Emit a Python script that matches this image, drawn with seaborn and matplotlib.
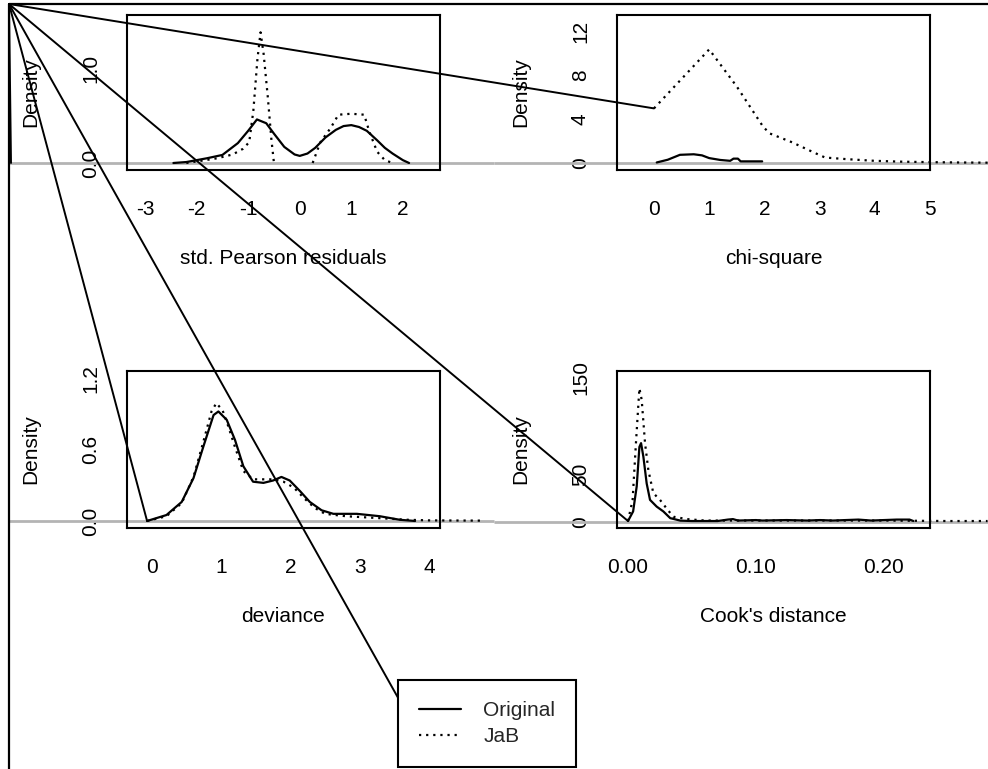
import numpy as np
import matplotlib
matplotlib.use("Agg")
import matplotlib.pyplot as plt
import matplotlib.transforms as mtransforms
from matplotlib.lines import Line2D
import seaborn as sns

# ---------------- density curves ----------------
pearson_orig_x = [-2.45, -2.2, -2.0, -1.8, -1.5, -1.2, -1.0, -0.83, -0.65, -0.5, -0.3, -0.1,
                  0.0, 0.15, 0.3, 0.5, 0.7, 0.85, 1.0, 1.15, 1.3, 1.5, 1.65, 1.8, 2.0, 2.12]
pearson_orig_y = [0.0, 0.01, 0.03, 0.05, 0.085, 0.21, 0.34, 0.46, 0.42, 0.31, 0.17, 0.09,
                  0.075, 0.10, 0.16, 0.27, 0.35, 0.39, 0.40, 0.38, 0.34, 0.24, 0.16, 0.10, 0.03, 0.0]
pearson_jab_x = [-2.2, -1.95, -1.6, -1.3, -1.1, -0.98, -0.9, -0.82, -0.76, -0.7, -0.62, -0.55,
                 -0.5, 0.25, 0.4, 0.6, 0.75, 1.0, 1.25, 1.35, 1.5, 1.65, 1.8]
pearson_jab_y = [0.0, 0.02, 0.05, 0.09, 0.15, 0.22, 0.55, 1.1, 1.38, 1.15, 0.7, 0.25,
                 0.0, 0.0, 0.22, 0.37, 0.51, 0.52, 0.51, 0.33, 0.12, 0.03, 0.0]

chisq_orig_x = [0.05, 0.25, 0.47, 0.72, 0.87, 1.0, 1.2, 1.38, 1.44, 1.52, 1.57, 1.96]
chisq_orig_y = [0.05, 0.3, 0.75, 0.8, 0.7, 0.45, 0.28, 0.2, 0.4, 0.4, 0.15, 0.15]
chisq_jab_x = [0.0, 0.5, 1.0, 1.5, 1.98, 2.1, 2.5, 2.88, 3.1, 3.5, 4.0, 4.5, 5.0, 5.5, 6.05]
chisq_jab_y = [5.0, 7.7, 10.4, 7.0, 3.3, 2.7, 1.9, 1.0, 0.5, 0.35, 0.2, 0.12, 0.08, 0.05, 0.03]

dev_orig_x = [-0.07, 0.21, 0.43, 0.6, 0.74, 0.89, 0.96, 1.08, 1.2, 1.32, 1.46, 1.61, 1.75,
              1.87, 1.99, 2.14, 2.28, 2.45, 2.62, 2.96, 3.29, 3.58, 3.8]
dev_orig_y = [0.0, 0.05, 0.16, 0.36, 0.62, 0.89, 0.92, 0.85, 0.68, 0.46, 0.33, 0.32, 0.34,
              0.37, 0.34, 0.25, 0.16, 0.09, 0.06, 0.06, 0.04, 0.01, 0.0]
dev_jab_x = [-0.07, 0.21, 0.43, 0.6, 0.74, 0.86, 0.93, 1.02, 1.1, 1.2, 1.32, 1.46, 1.6, 1.75,
             1.9, 2.05, 2.2, 2.35, 2.5, 2.8, 3.1, 3.4, 3.7, 4.0, 4.74]
dev_jab_y = [0.0, 0.04, 0.15, 0.37, 0.66, 0.92, 0.99, 0.93, 0.8, 0.62, 0.42, 0.35, 0.35, 0.35,
             0.33, 0.28, 0.19, 0.11, 0.06, 0.04, 0.03, 0.02, 0.01, 0.005, 0.003]

cook_orig_x = [0.0, 0.004, 0.0068, 0.0089, 0.0102, 0.012, 0.0146, 0.0172, 0.0224, 0.0276, 0.033,
               0.041, 0.05, 0.07, 0.078, 0.082, 0.086, 0.1, 0.105, 0.124, 0.14, 0.15, 0.16,
               0.18, 0.19, 0.21, 0.22, 0.223]
cook_orig_y = [1, 11, 37, 78, 82, 68, 40, 23, 16, 11, 4, 1.4, 1, 1, 2.5, 3, 1.5, 2, 1.5, 2,
               1.5, 2, 1.5, 2.5, 1.5, 2.5, 2.5, 1]
cook_jab_x = [0.0, 0.0036, 0.0062, 0.0089, 0.0107, 0.0133, 0.0159, 0.0198, 0.025, 0.0302,
              0.0354, 0.046, 0.06, 0.1, 0.15, 0.2, 0.25, 0.281]
cook_jab_y = [1, 23, 82, 139, 127, 82, 54, 30, 23, 14, 5.5, 3, 1.5, 1.5, 1.5, 1.5, 1.0, 1.0]

# ---------------- axes text ----------------
x_labels = ["std. Pearson residuals", "chi-square", "deviance", "Cook's distance"]
y_label = "Density"
legend_labels = ["Original", "JaB"]

pearson_xticks = [-3, -2, -1, 0, 1, 2]
pearson_xticklabels = ["-3", "-2", "-1", "0", "1", "2"]
pearson_yticks = [0.0, 0.5, 1.0]
pearson_yticklabels = ["0.0", "", "1.0"]

chisq_xticks = [0, 1, 2, 3, 4, 5]
chisq_xticklabels = ["0", "1", "2", "3", "4", "5"]
chisq_yticks = [0, 2, 4, 6, 8, 10, 12]
chisq_yticklabels = ["0", "", "4", "", "8", "", "12"]

dev_xticks = [0, 1, 2, 3, 4]
dev_xticklabels = ["0", "1", "2", "3", "4"]
dev_yticks = [0.0, 0.2, 0.4, 0.6, 0.8, 1.0, 1.2]
dev_yticklabels = ["0.0", "", "", "0.6", "", "", "1.2"]

cook_xticks = [0.00, 0.05, 0.10, 0.15, 0.20]
cook_xticklabels = ["0.00", "", "0.10", "", "0.20"]
cook_yticks = [0, 50, 100, 150]
cook_yticklabels = ["0", "50", "", "150"]

# ---------------- styling ----------------
W, H = 988, 769
FS = 15
sns.set_theme(style="white")
plt.rcParams["font.family"] = ["Liberation Sans", "DejaVu Sans"]
plt.rcParams["font.size"] = FS

LW = 1.6
DOT = (0, (1.0, 2.2))
ZERO_GREY = "#b4b4b4"

fig = plt.figure(figsize=(W / 100, H / 100), dpi=100)
fig.patch.set_facecolor("white")

FRAME_X = 9 / W
FRAME_Y = 1 - 4 / H


def px_axes(left, top, right, bottom):
    return fig.add_axes([left / W, 1 - bottom / H, (right - left) / W, (bottom - top) / H])


def split_zero_runs(x, y):
    x, y = np.asarray(x, float), np.asarray(y, float)
    cuts = [i + 1 for i in range(len(y) - 1) if y[i] == 0 and y[i + 1] == 0]
    return list(zip(np.split(x, cuts), np.split(y, cuts)))


panels = [
    dict(box=(127, 15, 440, 170), orig=(pearson_orig_x, pearson_orig_y),
         jab=(pearson_jab_x, pearson_jab_y), xlim=(-3.35, 2.72), ylim=(-0.074, 1.563),
         xt=(pearson_xticks, pearson_xticklabels), yt=(pearson_yticks, pearson_yticklabels),
         xlabel=x_labels[0], region=(FRAME_X, 0.5)),
    dict(box=(617, 15, 930, 170), orig=(chisq_orig_x, chisq_orig_y),
         jab=(chisq_jab_x, chisq_jab_y), xlim=(-0.67, 5.0), ylim=(-0.64, 13.55),
         xt=(chisq_xticks, chisq_xticklabels), yt=(chisq_yticks, chisq_yticklabels),
         xlabel=x_labels[1], region=(0.5, 1.0)),
    dict(box=(127, 371, 440, 528), orig=(dev_orig_x, dev_orig_y),
         jab=(dev_jab_x, dev_jab_y), xlim=(-0.36, 4.16), ylim=(-0.059, 1.26),
         xt=(dev_xticks, dev_xticklabels), yt=(dev_yticks, dev_yticklabels),
         xlabel=x_labels[2], region=(FRAME_X, 0.5)),
    dict(box=(617, 371, 930, 528), orig=(cook_orig_x, cook_orig_y),
         jab=(cook_jab_x, cook_jab_y), xlim=(-0.0086, 0.236), ylim=(-6.25, 157),
         xt=(cook_xticks, cook_xticklabels), yt=(cook_yticks, cook_yticklabels),
         xlabel=x_labels[3], region=(0.5, 1.0)),
]

axes = []
for p in panels:
    ax = px_axes(*p["box"])
    ax.set_facecolor("none")
    # zero reference line, spread over the whole panel region
    blend = mtransforms.blended_transform_factory(fig.transFigure, ax.transData)
    ax.plot(list(p["region"]), [0, 0], transform=blend, color=ZERO_GREY, lw=2.0,
            clip_on=False, zorder=1.5, solid_capstyle="butt")
    ox, oy = p["orig"]
    sns.lineplot(x=ox, y=oy, ax=ax, color="black", linewidth=LW,
                 estimator=None, sort=False, legend=False)
    for sx, sy in split_zero_runs(*p["jab"]):
        sns.lineplot(x=sx, y=sy, ax=ax, color="black", linewidth=LW, linestyle=DOT,
                     estimator=None, sort=False, legend=False)
    for ln in ax.lines:
        ln.set_clip_on(False)
    ax.set_xlim(*p["xlim"])
    ax.set_ylim(*p["ylim"])
    ax.set_xticks(p["xt"][0])
    ax.set_xticklabels(p["xt"][1])
    ax.set_yticks(p["yt"][0])
    ax.set_yticklabels(p["yt"][1], rotation=90, va="center")
    ax.tick_params(direction="out", length=9.5, width=1.3, color="black",
                   labelcolor="black", labelsize=FS)
    ax.tick_params(axis="x", pad=12)
    ax.tick_params(axis="y", pad=10)
    for s in ax.spines.values():
        s.set_visible(True)
        s.set_color("black")
        s.set_linewidth(1.5)
    ax.set_xlabel(p["xlabel"], fontsize=FS, labelpad=22, color="black")
    ax.set_ylabel(y_label, fontsize=FS, labelpad=29, color="black")
    ax.grid(False)
    axes.append(ax)

# legend
handles = [Line2D([], [], color="black", lw=LW),
           Line2D([], [], color="black", lw=LW, linestyle=DOT)]
leg = fig.legend(handles, legend_labels, loc="lower left",
                 bbox_to_anchor=(398 / W, 2 / H), borderaxespad=0,
                 frameon=True, fancybox=False, shadow=False, framealpha=1,
                 edgecolor="black", handlelength=2.0, handletextpad=1.1,
                 borderpad=1.0, labelspacing=0.35, fontsize=FS)
leg.get_frame().set_linewidth(1.5)

# outer frame of the device region
fig.add_artist(Line2D([FRAME_X, 1.0], [FRAME_Y, FRAME_Y], transform=fig.transFigure,
                      color="black", lw=1.6, solid_capstyle="butt"))
fig.add_artist(Line2D([FRAME_X, FRAME_X], [0.0, FRAME_Y], transform=fig.transFigure,
                      color="black", lw=1.6, solid_capstyle="butt"))

fig.canvas.draw()
to_fig = fig.transFigure.inverted()

# leader segments from the frame corner to the start of each curve
targets = []
ax0 = axes[0]
zero0 = to_fig.transform(ax0.transData.transform((ax0.get_xlim()[0], 0)))
targets.append((FRAME_X + 2 / W, zero0[1]))
for ax, p in zip(axes[1:], panels[1:]):
    jx, jy = p["jab"]
    targets.append(tuple(to_fig.transform(ax.transData.transform((jx[0], jy[0])))))
jab_handle = leg.legend_handles[1]
hpts = jab_handle.get_transform().transform(jab_handle.get_xydata())
targets.append(tuple(to_fig.transform(hpts[np.argmin(hpts[:, 0])])))

for tx, ty in targets:
    fig.add_artist(Line2D([FRAME_X, tx], [FRAME_Y, ty], transform=fig.transFigure,
                          color="black", lw=1.4, zorder=4))

fig.savefig("out.png", dpi=100)
